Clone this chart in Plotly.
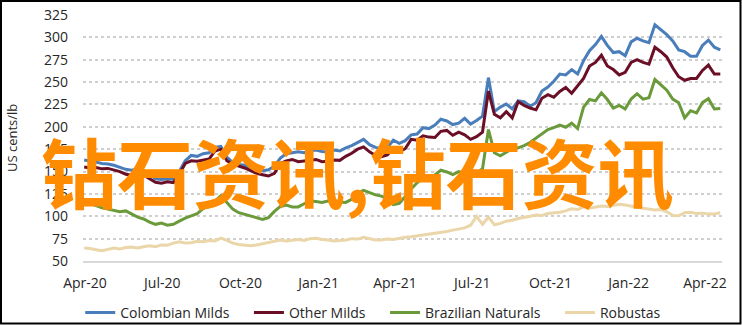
import pandas as pd
import plotly.graph_objects as go

# Weekly ICO group indicator prices, US cents/lb
dates = pd.date_range("2020-03-31", periods=108, freq="7D")

colombian_milds = [
    163, 162, 160.5, 159, 158.5, 157, 155, 152.5, 151.5, 153,
    151, 147, 142, 141, 142, 141.5, 150, 162, 168, 167,
    170, 171, 177, 178, 166, 160, 158, 157, 154.5, 152,
    151, 152, 156, 165, 170, 171, 172, 171, 173, 174,
    172.5, 172, 174, 173, 176.5, 179, 183, 186, 180, 177,
    175.5, 177, 185, 181.5, 184.5, 191, 192, 199, 198, 202,
    208.5, 206.5, 202.5, 204, 209.5, 203, 207, 212, 255, 217,
    222, 225.5, 220, 229, 228, 223, 227, 240, 244.5, 251,
    259, 258, 264, 259, 274, 285, 292, 301, 291, 283,
    284, 279.5, 295, 299, 296, 294, 314, 309, 303, 296,
    286, 284, 279, 279, 291, 297, 289, 286,
]

other_milds = [
    155, 154, 154.5, 153, 153.5, 152, 150, 147, 146, 148,
    146, 142, 138, 137, 138.5, 137.5, 147, 159, 162, 161.5,
    163, 164, 173, 175, 162, 158, 156, 154, 151, 148,
    146.5, 145, 148, 159, 162, 163.5, 161, 162, 163, 163.5,
    161, 161.5, 163, 162.5, 167, 170.5, 175, 177.5, 172, 168,
    166.5, 168.5, 176, 172, 175.5, 186, 185, 190, 188.5, 188,
    195, 196, 190.5, 194, 191, 186, 189, 194, 240, 214,
    210, 217, 210, 228, 224, 221, 219, 232, 236, 233,
    239.5, 244, 237.5, 246, 254, 268, 272, 280, 268, 264,
    258, 261, 272, 275, 272, 270, 289, 284, 278, 266,
    256, 252, 254, 254, 263, 269, 259, 259,
]

brazilian_naturals = [
    115, 114.5, 112, 109.5, 108, 106.5, 105, 106, 102.5, 99,
    97, 93.5, 91, 92.5, 90, 91, 94.5, 98, 100.5, 103,
    108.5, 113, 117, 123, 116, 108, 104, 102, 100.5, 98,
    96.5, 98.5, 105.5, 111, 112.5, 110.5, 110.5, 114, 117, 116.5,
    115.5, 117, 118, 116, 115.5, 119, 126, 129, 126.5, 124,
    122.5, 119.5, 113, 114.5, 122, 130.5, 137.5, 143, 141, 146,
    151.5, 149.5, 146.5, 150, 148.5, 146.5, 148.5, 153, 197, 171,
    167.5, 172, 175.5, 176.5, 179, 182.5, 187, 192, 197, 199,
    202, 199.5, 204, 198, 222, 230.5, 229, 238, 230.5, 221,
    224, 220, 231, 237, 231, 232.5, 253, 247, 241, 231,
    227, 210, 218, 215.5, 227, 231.5, 220, 220.5,
]

robustas = [
    64.5, 64, 62.5, 61.5, 63, 64.5, 63.5, 65, 65.5, 64.5,
    66, 67, 66, 68, 67.5, 70, 71.5, 70, 70.5, 72,
    71.5, 73, 72.5, 75.5, 73, 70, 68.5, 67.5, 67, 68,
    69.5, 71, 72.5, 73.5, 72.5, 73.5, 74, 73, 75, 75.5,
    74, 73.5, 72.5, 73, 73.5, 75, 74.5, 76.5, 75, 73.5,
    73.5, 74.5, 74, 75.5, 76.5, 77, 78, 78.5, 79.5, 81,
    82, 83, 84.5, 86, 87, 90, 100, 91, 99, 90.5,
    92, 94.5, 95.5, 97.5, 98.5, 100, 101.5, 101, 103, 103.5,
    104.5, 106, 108.5, 107.5, 110.5, 109, 110, 111.5, 111, 112.5,
    113.5, 112.5, 111, 110, 109, 108, 107, 107.5, 105, 101,
    100.5, 104, 104.5, 103, 103.5, 102.5, 102.5, 104,
]

series = [
    ("Colombian Milds", colombian_milds, "#4a7ebb"),
    ("Other Milds", other_milds, "#6b0f26"),
    ("Brazilian Naturals", brazilian_naturals, "#6b9a3b"),
    ("Robustas", robustas, "#ead6a8"),
]

FONT = "Open Sans, Liberation Sans, sans-serif"
TEXT = "#262626"
LEGEND_PAD = "\u00a0" * 4  # extra room between legend entries

fig = go.Figure()
for k, (name, values, color) in enumerate(series):
    label = name + (LEGEND_PAD if k < len(series) - 1 else "")
    fig.add_trace(go.Scatter(
        x=dates, y=values, name=label, mode="lines",
        line=dict(color=color, width=3),
    ))

fig.update_layout(
    width=742, height=325, autosize=False,
    margin=dict(l=83, r=20, t=15, b=64, autoexpand=False),
    paper_bgcolor="white", plot_bgcolor="white",
    font=dict(family=FONT, size=14, color=TEXT),
    showlegend=True,
    legend=dict(
        orientation="h",
        xref="container", yref="container",
        x=0.503, xanchor="center", y=0.037, yanchor="middle",
        font=dict(family=FONT, size=14, color=TEXT),
        bgcolor="rgba(0,0,0,0)",
    ),
)

fig.update_xaxes(
    type="date",
    range=["2020-03-29 15:00", "2022-04-21"],
    tick0="2020-04-01", dtick="M3", tickformat="%b-%y",
    showgrid=False, showline=True, linecolor="#d9d9d9", linewidth=1.5,
    ticks="", ticklabelstandoff=8,
    tickfont=dict(family=FONT, size=14, color=TEXT),
)
fig.update_yaxes(
    range=[50, 325], tick0=50, dtick=25,
    showgrid=True, gridcolor="#cfcfcf", gridwidth=1.5, griddash="dot",
    zeroline=False, showline=False, ticks="", ticklabelstandoff=14,
    tickfont=dict(family=FONT, size=14, color=TEXT),
)

# axis title
fig.add_annotation(
    text="US cents/lb", textangle=-90, showarrow=False,
    xref="paper", yref="paper", x=-0.111, y=0.5,
    xanchor="center", yanchor="middle",
    font=dict(family=FONT, size=13, color=TEXT),
)

# overlay text
fig.add_annotation(
    text="钻石资讯,钻石资讯", showarrow=False,
    xref="paper", yref="paper", x=0.429, y=0.37,
    xanchor="center", yanchor="middle",
    font=dict(family="Noto Sans CJK SC", size=76, color="#ff8c00", weight=600),
)

# outer frame
fig.add_shape(
    type="rect", xref="paper", yref="paper",
    x0=(1 - 83) / 639, x1=(740.5 - 83) / 639,
    y0=(261 - 323.5) / 246, y1=(261 - 1) / 246,
    line=dict(color="black", width=2), fillcolor="rgba(0,0,0,0)",
    layer="above",
)

fig.write_html("out.html")
